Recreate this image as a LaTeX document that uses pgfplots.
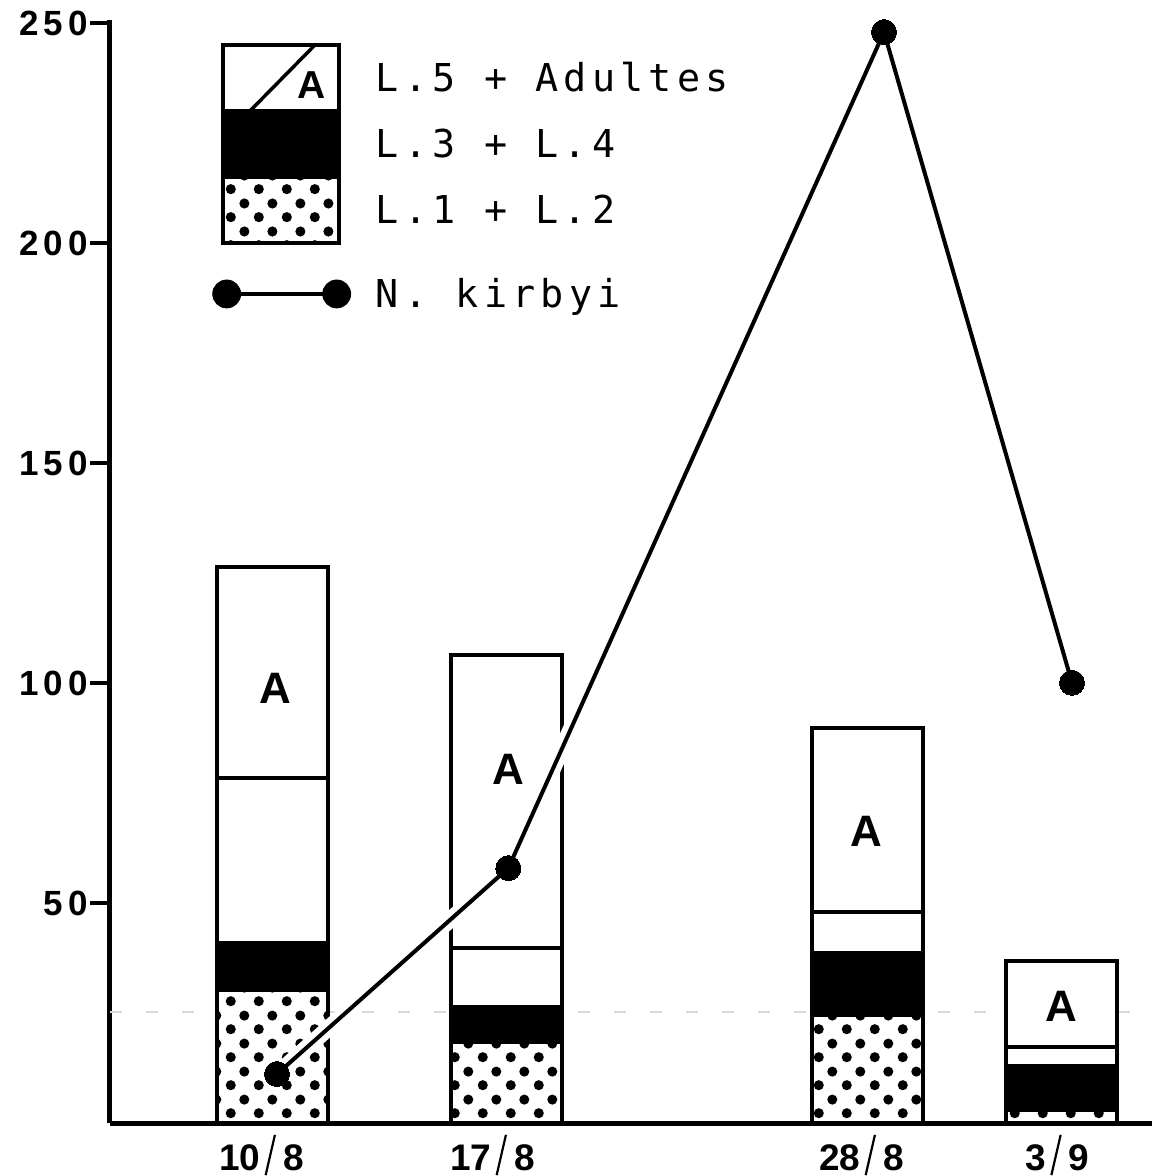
\documentclass[border=0pt]{standalone}
\usepackage{fontspec}
\usepackage{graphicx}
\usepackage{pgfplots}
\usepackage{pgfplotstable}
\pgfplotsset{compat=1.18}
\usetikzlibrary{patterns}
\setmainfont{Liberation Sans}
\newfontfamily\ytickfam{Liberation Sans}[LetterSpace=14]
\newfontfamily\legfam{DejaVu Sans Mono}[LetterSpace=13.6]
\newcommand{\ytickfont}{\ytickfam\bfseries\fontsize{17.5}{20}\selectfont}
\newcommand{\xtickfont}{\bfseries\fontsize{18.5}{21}\selectfont}
\newcommand{\legfont}{\legfam\fontsize{19.2}{22}\selectfont}
\newcommand{\Afont}{\bfseries\fontsize{22}{26}\selectfont}
\newcommand{\Alegfont}{\bfseries\fontsize{19.5}{22}\selectfont}
\newcommand{\dsl}{\hspace{2pt}\raisebox{-2.2pt}{\rotatebox{-13}{\rule{1.1pt}{20.7pt}}}\hspace{3.5pt}}

\pgfdeclarepatternformonly{bigdots}{\pgfqpoint{0pt}{0pt}}{\pgfqpoint{14pt}{14pt}}{\pgfqpoint{14pt}{14pt}}{%
  \pgfpathcircle{\pgfqpoint{3.5pt}{3.5pt}}{2.6pt}%
  \pgfpathcircle{\pgfqpoint{10.5pt}{10.5pt}}{2.6pt}%
  \pgfusepath{fill}}

% cumulative tops of each stacked segment
\pgfplotstableread{
x      tot    lfivetop  lthreetop  lonetop
272.5  126.5  78.4      41.0       30.3
506    106.4  39.8      26.5       18.5
867.5  89.8   48.1      38.6       24.6
1061.5 36.9   17.4      13.0       3.0
}\bars

\pgfplotstableread{
x      n
277    11.2
508.3  58.0
884    248.0
1072   100.1
}\kirbyi

\begin{document}
\begin{tikzpicture}
\path[use as bounding box] (-55pt,-26.35pt) rectangle (521pt,561.65pt);
\begin{axis}[
  at={(0,0)}, anchor=south west,
  scale only axis, width=521pt, height=551.65pt,
  xmin=110, xmax=1152, ymin=0, ymax=250.75,
  clip=false,
  axis lines=left,
  axis line style={-, line width=2.5pt, black},
  ytick={50,100,150,200,250},
  xtick={261.5,492.5,861.5,1057.5},
  xticklabels={10\dsl8, 17\dsl8, 28\dsl8, 3\dsl9},
  tick align=outside, major tick length=10pt,
  ytick style={line width=2pt, black},
  xtick style={draw=none},
  /pgf/number format/assume math mode=true,
  yticklabel style={font=\ytickfont, inner sep=0pt, anchor=east, text height=12.5pt, text depth=0pt, xshift=-1pt},
  xticklabel style={font=\xtickfont, inner sep=0pt, anchor=north, text height=13.2pt, text depth=0pt, yshift=-0.2pt},
  legend cell align=left,
  legend style={
    at={(0.08925,0.97735)}, anchor=north west,
    draw=none, fill=none, inner sep=0pt, outer sep=0pt,
    row sep=0pt, column sep=0pt,
    font=\legfont,
    nodes={inner sep=0pt, outer sep=0pt, text height=14pt, text depth=0pt, minimum height=33pt},
  },
]
% legend entries
\addlegendimage{legend image code/.code={
  \draw[overlay, line width=2pt, fill=white] (0pt,-16.5pt) rectangle (58pt,16.5pt);
  \draw[overlay, line width=1.75pt] (13.5pt,-16.5pt) -- (46pt,16.5pt);
  \node[overlay, font=\Alegfont, inner sep=0pt, minimum height=0pt, text height=14pt, text depth=0pt, anchor=center] at (44.5pt,-3.5pt) {A};
  \path[draw=none, fill=none] (-10pt,-16.5pt) rectangle (76.5pt,16.5pt);
}}
\addlegendentry{L.5 + Adultes}
\addlegendimage{legend image code/.code={
  \draw[overlay, line width=2pt, fill=black] (0pt,-16.5pt) rectangle (58pt,16.5pt);
  \path[draw=none, fill=none] (-10pt,-16.5pt) rectangle (76.5pt,16.5pt);
}}
\addlegendentry{L.3 + L.4}
\addlegendimage{legend image code/.code={
  \draw[overlay, line width=2pt, fill=white, postaction={pattern=bigdots}] (0pt,-16.5pt) rectangle (58pt,16.5pt);
  \path[draw=none, fill=none] (-10pt,-16.5pt) rectangle (76.5pt,16.5pt);
}}
\addlegendentry{L.1 + L.2}
\addlegendimage{legend image code/.code={
  \draw[overlay, line width=2pt] (1.85pt,0pt) -- (56.85pt,0pt);
  \fill[overlay] (1.85pt,0pt) circle (7pt);
  \fill[overlay] (56.85pt,0pt) circle (7pt);
  \path[draw=none, fill=none] (-10pt,-16.5pt) rectangle (76.5pt,25.5pt);
}}
\addlegendentry{N. kirbyi}

% faint scan line
\addplot[forget plot, black!15, line width=1pt, dash pattern=on 6pt off 12pt] coordinates {(110,25.4) (1152,25.4)};

% bars (drawn from tallest cumulative to shortest)
\addplot[forget plot, ybar, bar width=111, bar shift=0pt, fill=white, draw=black, line width=2pt] table[x=x, y=tot] {\bars};
\addplot[forget plot, ybar, bar width=111, bar shift=0pt, fill=white, draw=black, line width=2pt] table[x=x, y=lfivetop] {\bars};
\addplot[forget plot, ybar, bar width=111, bar shift=0pt, fill=black, draw=black, line width=2pt] table[x=x, y=lthreetop] {\bars};
\addplot[forget plot, ybar, bar width=111, bar shift=0pt, fill=white, draw=black, line width=2pt, postaction={pattern=bigdots}] table[x=x, y=lonetop] {\bars};

% A labels
\node[font=\Afont, inner sep=0pt, text height=15.85pt, text depth=0pt, anchor=center] at (axis cs:275,99.05) {A};
\node[font=\Afont, inner sep=0pt, text height=15.85pt, text depth=0pt, anchor=center] at (axis cs:508.3,80.5) {A};
\node[font=\Afont, inner sep=0pt, text height=15.85pt, text depth=0pt, anchor=center] at (axis cs:866.7,66.5) {A};
\node[font=\Afont, inner sep=0pt, text height=15.85pt, text depth=0pt, anchor=center] at (axis cs:1061.7,26.7) {A};

% N. kirbyi line with white halo
\addplot[forget plot, white, line width=8pt, line join=round] table[x=x, y=n] {\kirbyi};
\addplot[forget plot, black, line width=2pt, line join=round, mark=*, mark size=6.25pt, mark options={solid, fill=black, draw=black, line width=0pt}] table[x=x, y=n] {\kirbyi};
\end{axis}
\end{tikzpicture}
\end{document}
